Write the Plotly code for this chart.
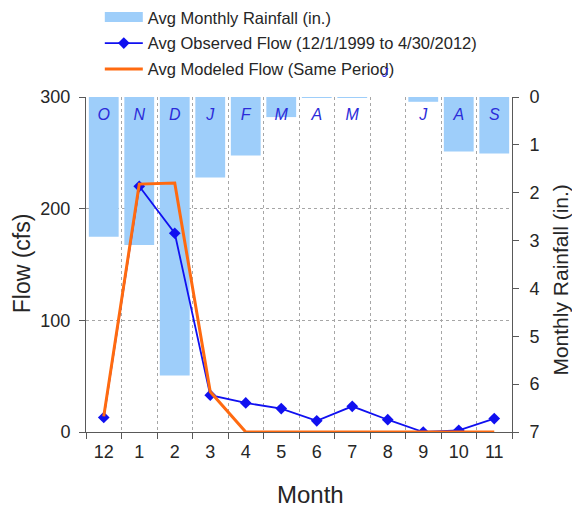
import plotly.graph_objects as go

months = ["12", "1", "2", "3", "4", "5", "6", "7", "8", "9", "10", "11"]
month_letters = ["O", "N", "D", "J", "F", "M", "A", "M", "", "J", "A", "S"]
rainfall_in = [2.92, 3.09, 5.82, 1.68, 1.22, 0.42, 0.02, 0.02, 0.0, 0.10, 1.14, 1.18]
observed_flow = [13, 220, 178, 33, 26, 21, 10, 23, 11, 0, 1.5, 12]
modeled_flow = [14, 222, 223, 36, 0, 0, 0, 0, 0, 0, 0, 0]
letter_level = [0.40] * 12

FONT = "Liberation Sans, Arial, sans-serif"
TXT = "#262626"
AX = "#595959"
BAR = "#9ECEFA"
BLUE = "#1010F0"
ORANGE = "#FF6A10"

fig = go.Figure()

fig.add_trace(go.Bar(
    x=months, y=rainfall_in, yaxis="y", name="Avg Monthly Rainfall (in.)",
    marker=dict(color=BAR, line=dict(width=0)), width=0.84, showlegend=False,
))
# legend entry for the rainfall bars (drawn as a wide swatch, like the original)
fig.add_trace(go.Scatter(
    x=[None], y=[None], yaxis="y", mode="lines", name="Avg Monthly Rainfall (in.)",
    line=dict(color=BAR, width=10), showlegend=True, legendgroup="g1",
))
fig.add_trace(go.Scatter(
    x=months, y=letter_level, yaxis="y", mode="text", text=month_letters,
    textfont=dict(family=FONT, size=16, color="#2B2BD9", style="italic"),
    showlegend=False, hoverinfo="skip",
))
fig.add_trace(go.Scatter(
    x=months, y=observed_flow, yaxis="y2", mode="lines+markers",
    name="Avg Observed Flow (12/1/1999 to 4/30/2012)", legendgroup="g2",
    line=dict(color=BLUE, width=1.8),
    marker=dict(symbol="diamond", size=9, color=BLUE),
))
fig.add_trace(go.Scatter(
    x=months, y=modeled_flow, yaxis="y2", mode="lines",
    name="Avg Modeled Flow (Same Period)", legendgroup="g3",
    line=dict(color=ORANGE, width=3),
))

fig.update_layout(
    width=572, height=504,
    margin=dict(l=78, r=68, t=89, b=80, autoexpand=False),
    paper_bgcolor="white", plot_bgcolor="white",
    font=dict(family=FONT, size=18, color=TXT),
    showlegend=True,
    legend=dict(
        xref="container", yref="paper",
        x=0.1605, y=1.29, xanchor="left", yanchor="top",
        font=dict(size=16.5, color=TXT), itemwidth=38, tracegroupgap=1.5,
        bgcolor="rgba(0,0,0,0)", traceorder="grouped",
    ),
    xaxis=dict(
        type="category", categoryorder="array", categoryarray=months,
        range=[-0.5, 11.5], autorange=False,
        showline=True, linecolor=AX, linewidth=1, automargin=False,
        ticks="outside", ticklen=6, tickcolor=AX, tickson="boundaries",
        ticklabelstandoff=3,
        showgrid=True, gridcolor="#A6A6A6", griddash="dot", gridwidth=1,
        tickfont=dict(size=18, color=TXT),
        zeroline=False,
    ),
    yaxis=dict(
        side="right", range=[7, 0], dtick=1, tick0=0, automargin=False,
        showline=True, linecolor=AX, linewidth=1,
        ticks="outside", ticklen=6, tickcolor=AX, ticklabelstandoff=7,
        showgrid=False, zeroline=False,
        tickfont=dict(size=18, color=TXT),
    ),
    yaxis2=dict(
        overlaying="y", side="left", range=[0, 300], dtick=100, tick0=0, automargin=False,
        showline=True, linecolor=AX, linewidth=1,
        ticks="outside", ticklen=6, tickcolor=AX, ticklabelstandoff=5,
        showgrid=True, gridcolor="#A6A6A6", griddash="dot", gridwidth=1,
        zeroline=False,
        tickfont=dict(size=18, color=TXT),
    ),
)

# axis titles
fig.add_annotation(xref="paper", yref="paper", x=-0.150, y=0.504, text="Flow (cfs)",
                   xanchor="center", yanchor="middle",
                   textangle=-90, showarrow=False, font=dict(size=23, color=TXT))
fig.add_annotation(xref="paper", yref="paper", x=1.115, y=0.455, text="Monthly Rainfall (in.)",
                   xanchor="center", yanchor="middle",
                   textangle=-90, showarrow=False, font=dict(size=21, color=TXT))
fig.add_annotation(xref="paper", yref="paper", x=0.526, y=-0.188, text="Month",
                   xanchor="center", yanchor="middle",
                   showarrow=False, font=dict(size=24, color=TXT))
# stray month letter sitting in the legend area in the original
fig.add_annotation(
    xref="paper", yref="paper", x=0.702, y=1.072, xanchor="center", yanchor="middle",
    text="J", showarrow=False, font=dict(family=FONT, size=12, color="#2B2BD9", style="italic"),
)

fig.write_html("out.html")
